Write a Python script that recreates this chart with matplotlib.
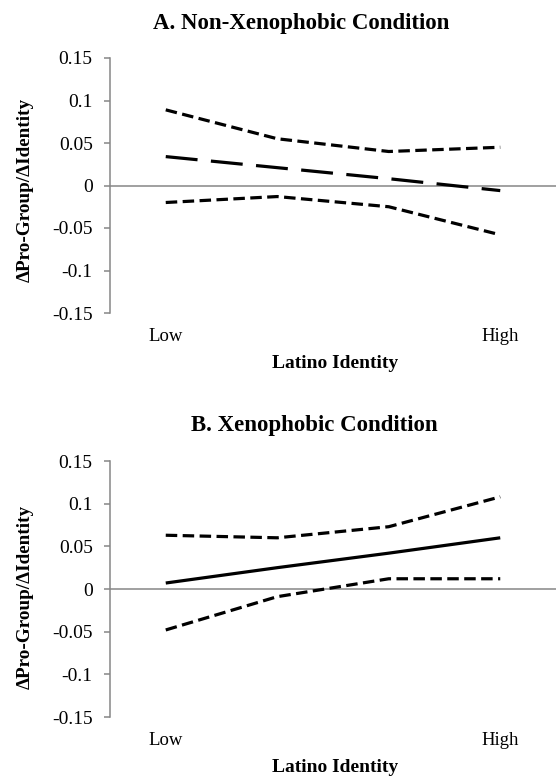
import numpy as np
import matplotlib
matplotlib.use("Agg")
import matplotlib.pyplot as plt

plt.rcParams['font.family'] = ['Liberation Serif', 'DejaVu Serif']

# data
categories = ["Low", "", "", "High"]
yticks = [-0.15, -0.1, -0.05, 0, 0.05, 0.1, 0.15]
ytick_labels = ["-0.15", "-0.1", "-0.05", "0", "0.05", "0.1", "0.15"]

a_effect = [0.034, 0.021, 0.008, -0.006]
a_upper = [0.089, 0.055, 0.040, 0.045]
a_lower = [-0.020, -0.013, -0.025, -0.058]

b_effect = [0.007, 0.025, 0.042, 0.060]
b_upper = [0.063, 0.060, 0.073, 0.108]
b_lower = [-0.048, -0.009, 0.012, 0.012]

GRAY = '#868686'
fig = plt.figure(figsize=(5.56, 7.78), dpi=100)

W, H = 556, 778
def box(left, top, bottom):
    return [left / W, 1 - bottom / H, 1 - left / W, (bottom - top) / H]

panels = [
    ("A. Non-Xenophobic Condition", a_effect, a_upper, a_lower, (10, 4.2),
     box(110, 58, 313), (301, 23), 364, 190),
    ("B. Xenophobic Condition", b_effect, b_upper, b_lower, None,
     box(110, 461, 717), (314, 425), 768, 597),
]

x = np.arange(len(categories))
for title, eff, up, lo, eff_dash, rect, tpos, xl_y, yl_y in panels:
    ax = fig.add_axes(rect)
    ci = dict(color='black', lw=2.3, dashes=(3.6, 1.7), dash_capstyle='butt')
    ax.plot(x, up, **ci)
    ax.plot(x, lo, **ci)
    if eff_dash:
        ax.plot(x, eff, color='black', lw=2.3, dashes=eff_dash, dash_capstyle='butt')
    else:
        ax.plot(x, eff, color='black', lw=2.3, solid_capstyle='butt')
    ax.axhline(0, color=GRAY, lw=1.1, zorder=0)

    ax.set_xlim(-0.5, 3.5)
    ax.set_ylim(-0.15, 0.15)
    ax.set_yticks(yticks)
    ax.set_yticklabels(ytick_labels, fontsize=14)
    ax.set_xticks(x)
    ax.set_xticklabels(categories, fontsize=13.5)
    ax.tick_params(axis='x', length=0, pad=11)
    ax.tick_params(axis='y', length=4.5, width=1.1, color=GRAY, pad=8)
    for s in ['top', 'right', 'bottom']:
        ax.spines[s].set_visible(False)
    ax.spines['left'].set_color(GRAY)
    ax.spines['left'].set_linewidth(1.1)

    fig.text(tpos[0] / W, 1 - tpos[1] / H, title, ha='center', va='center',
             fontsize=16.5, fontweight='bold')
    fig.text(335 / W, 1 - xl_y / H, "Latino Identity", ha='center', va='center',
             fontsize=14, fontweight='bold')
    fig.text(25 / W, 1 - yl_y / H, "ΔPro-Group/ΔIdentity", ha='center', va='center',
             rotation=90, fontsize=13.8, fontweight='bold')

fig.savefig("out.png", dpi=100)
